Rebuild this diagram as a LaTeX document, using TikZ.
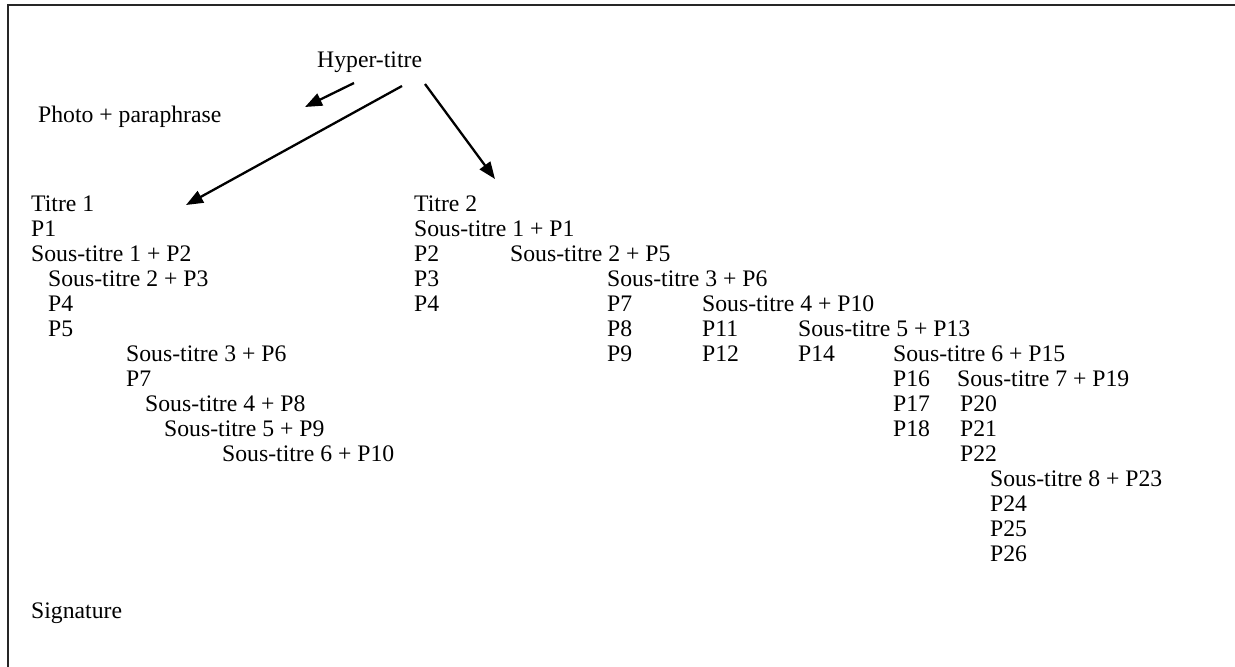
\documentclass[tikz,border=0pt]{standalone}
\usepackage{fontspec}
\setmainfont{Liberation Serif}
\usetikzlibrary{arrows.meta}
\begin{document}
\begin{tikzpicture}[x=1pt,y=-1pt,
  txt/.style={anchor=base west,inner sep=0pt,font=\fontsize{23.7}{27}\selectfont},
  arr/.style={line width=2.3pt,-{Triangle[length=17pt,width=13pt]}},
  frame/.style={line width=2pt,black!85}]
\useasboundingbox (0,0) rectangle (1235,667);
\draw[frame] (8,667) -- (8,5) -- (1235,5);
% top
\node[txt] (hyper) at (317,67) {Hyper-titre};
\node[txt] (photo) at (38,122) {Photo + paraphrase};
% left column
\node[txt] (t1)  at (31,211) {Titre 1};
\node[txt] (lp1) at (31,236) {P1};
\node[txt] (ls1) at (31,261) {Sous-titre 1 + P2};
\node[txt] (ls2) at (48,286) {Sous-titre 2 + P3};
\node[txt] (lp4) at (48,311) {P4};
\node[txt] (lp5) at (48,336) {P5};
\node[txt] (ls3) at (126,361) {Sous-titre 3 + P6};
\node[txt] (lp7) at (126,386) {P7};
\node[txt] (ls4) at (145,411) {Sous-titre 4 + P8};
\node[txt] (ls5) at (164,436) {Sous-titre 5 + P9};
\node[txt] (ls6) at (222,461) {Sous-titre 6 + P10};
\node[txt] (sig) at (31,618) {Signature};
% right part
\node[txt] (t2)   at (414,211) {Titre 2};
\node[txt] (rs1)  at (414,236) {Sous-titre 1 + P1};
\node[txt] (rp2)  at (414,261) {P2};
\node[txt] (rp3)  at (414,286) {P3};
\node[txt] (rp4)  at (414,311) {P4};
\node[txt] (rs2)  at (510,261) {Sous-titre 2 + P5};
\node[txt] (rs3)  at (607,286) {Sous-titre 3 + P6};
\node[txt] (rp7)  at (607,311) {P7};
\node[txt] (rp8)  at (607,336) {P8};
\node[txt] (rp9)  at (607,361) {P9};
\node[txt] (rs4)  at (702,311) {Sous-titre 4 + P10};
\node[txt] (rp11) at (702,336) {P11};
\node[txt] (rp12) at (702,361) {P12};
\node[txt] (rs5)  at (798,336) {Sous-titre 5 + P13};
\node[txt] (rp14) at (798,361) {P14};
\node[txt] (rs6)  at (893,361) {Sous-titre 6 + P15};
\node[txt] (rp16) at (893,386) {P16};
\node[txt] (rp17) at (893,411) {P17};
\node[txt] (rp18) at (893,436) {P18};
\node[txt] (rs7)  at (957,386) {Sous-titre 7 + P19};
\node[txt] (rp20) at (960,411) {P20};
\node[txt] (rp21) at (960,436) {P21};
\node[txt] (rp22) at (960,461) {P22};
\node[txt] (rs8)  at (990,486) {Sous-titre 8 + P23};
\node[txt] (rp24) at (990,511) {P24};
\node[txt] (rp25) at (990,536) {P25};
\node[txt] (rp26) at (990,561) {P26};
% arrows
\coordinate (a1s) at (354,83);
\coordinate (a1e) at (305,107);
\coordinate (a2s) at (402,86);
\coordinate (a2e) at (186,205);
\coordinate (a3s) at (425,84);
\coordinate (a3e) at (495,179);
\draw[arr] (a1s) -- (a1e);
\draw[arr] (a2s) -- (a2e);
\draw[arr] (a3s) -- (a3e);
\end{tikzpicture}
\end{document}
